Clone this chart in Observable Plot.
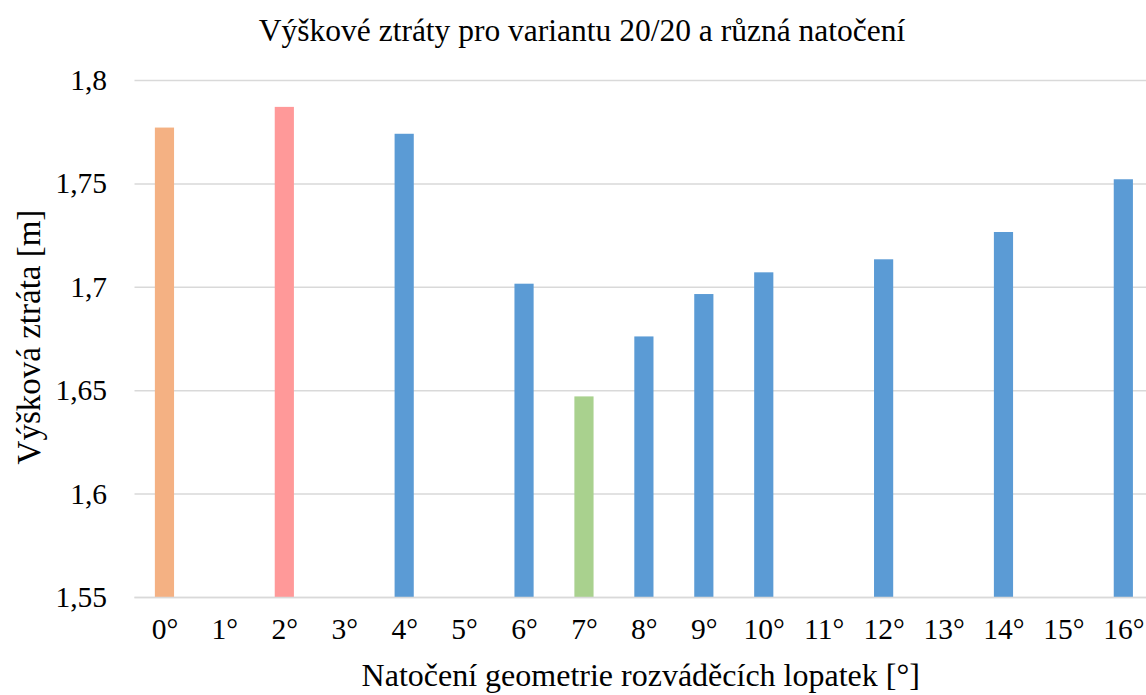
<!DOCTYPE html>
<html>
<head>
<meta charset="utf-8">
<script src="https://cdn.jsdelivr.net/npm/d3@7"></script>
<script src="https://cdn.jsdelivr.net/npm/@observablehq/plot@0.6"></script>
<style>
  html, body { margin: 0; padding: 0; background: #fff; }
  #chart { width: 1146px; height: 695px; }
</style>
</head>
<body>
<div id="chart"></div>
<script>
const categories = ["0°","1°","2°","3°","4°","5°","6°","7°","8°","9°","10°","11°","12°","13°","14°","15°","16°"];
const barLabels = ["0°","2°","4°","6°","7°","8°","9°","10°","12°","14°","16°"];
const barValues = [1.777, 1.787, 1.774, 1.7015, 1.647, 1.676, 1.6965, 1.707, 1.7133, 1.7265, 1.752];
const barColors = ["#F4B183","#FF9999","#5B9BD5","#5B9BD5","#A9D18E","#5B9BD5","#5B9BD5","#5B9BD5","#5B9BD5","#5B9BD5","#5B9BD5"];
const yTicks = [1.55, 1.6, 1.65, 1.7, 1.75, 1.8];
const yTickLabels = ["1,55","1,6","1,65","1,7","1,75","1,8"];
const titleText = "Výškové ztráty pro variantu 20/20 a různá natočení";
const xLabel = "Natočení geometrie rozváděcích lopatek [°]";
const yLabel = "Výšková ztráta [m]";

const data = barLabels.map((c, i) => ({cat: c, value: barValues[i], color: barColors[i]}));
const font = "'Liberation Serif', 'Times New Roman', serif";

const chart = Plot.plot({
  width: 1146,
  height: 695,
  marginTop: 80,
  marginBottom: 98,
  marginLeft: 134.5,
  marginRight: 0,
  style: {fontFamily: font, fontSize: "29.5px", color: "#000", background: "#fff", overflow: "visible"},
  x: {domain: categories, range: [134.5, 1153.3], paddingInner: 0.68, paddingOuter: 0.34, round: false, axis: null},
  y: {domain: [1.55, 1.8], axis: null},
  marks: [
    Plot.gridY(yTicks, {stroke: "#D9D9D9", strokeWidth: 1.5, strokeOpacity: 1}),
    Plot.rectY(data, {x: "cat", y1: 1.55, y2: "value", fill: "color"}),
    Plot.ruleY([1.55], {stroke: "#D9D9D9", strokeWidth: 1.5}),
    Plot.axisY(yTicks, {tickFormat: (d) => yTickLabels[yTicks.indexOf(d)], tickSize: 0, tickPadding: 28, fontSize: 29.5, label: null}),
    Plot.axisX(categories, {tickSize: 0, tickPadding: 21, fontSize: 29.5, label: null}),
    Plot.text([titleText], {frameAnchor: "top-left", dx: 581.5 - 134.5, dy: -50, lineAnchor: "middle", text: d => d, fontSize: 31.5, textAnchor: "middle"}),
    Plot.text([xLabel], {frameAnchor: "bottom", dy: 78, lineAnchor: "middle", text: d => d, fontSize: 32, textAnchor: "middle"}),
    Plot.text([yLabel], {frameAnchor: "left", dx: -106, dy: -2, lineAnchor: "middle", rotate: -90, text: d => d, fontSize: 33, textAnchor: "middle"})
  ]
});
document.getElementById("chart").appendChild(chart);
</script>
</body>
</html>
